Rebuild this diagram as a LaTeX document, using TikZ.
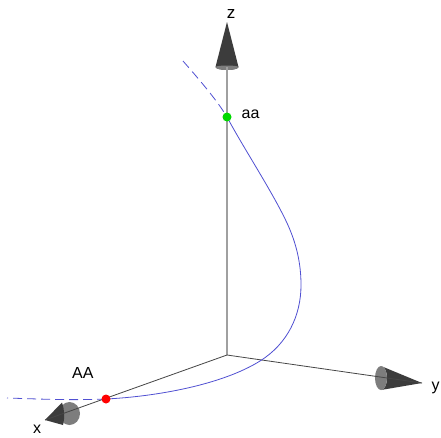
\documentclass[tikz,border=0pt]{standalone}
\usepackage{fontspec}
\setmainfont{Liberation Sans}
\begin{document}
\begin{tikzpicture}[x=1pt,y=-1pt,
  curve/.style={draw=curveblue,line width=0.8pt},
  dashcurve/.style={curve,dash pattern=on 9pt off 5pt},
  axisline/.style={draw=axisgray,line width=0.8pt},
  conebody/.style={fill=conedark},
  conebase/.style={fill=conelight},
  pt/.style={circle,inner sep=0pt,minimum size=9pt},
  lbl/.style={inner sep=0pt,font=\fontsize{16}{19}\selectfont}]
\definecolor{curveblue}{RGB}{80,80,210}
\definecolor{axisgray}{RGB}{70,70,70}
\definecolor{zgray}{RGB}{160,160,160}
\definecolor{conedark}{RGB}{60,60,60}
\definecolor{conelight}{RGB}{125,125,125}
\useasboundingbox (0,0) rectangle (441,437);
\fill[white] (0,0) rectangle (441,437);
% coordinates
\coordinate (O) at (227,355);
\coordinate (xtip) at (45,420);
\coordinate (ytip) at (422,383);
\coordinate (ztip) at (227,22);
\coordinate (zbase) at (227,67);
% cones
\fill[conebody] (ztip) -- (215.5,67) arc[start angle=180,end angle=360,x radius=11.5,y radius=-3] -- cycle;
\fill[conebase] (215.5,67) arc[start angle=180,end angle=360,x radius=11.5,y radius=-3] arc[start angle=0,end angle=180,x radius=11.5,y radius=-1.5] -- cycle;
\fill[conebase] (69.5,413.5) ellipse[x radius=10.5,y radius=11.5];
\fill[conebody] (xtip) -- (62,402.5) to[bend left=15] (63,425) -- cycle;
\fill[conebody] (ytip) -- (381,366) arc[start angle=90,end angle=-90,x radius=6,y radius=-12] -- cycle;
\fill[conebase] (381,378) ellipse[x radius=6,y radius=12];
% axes
\draw[draw=zgray,line width=1.6pt] (O) -- (zbase);
\draw[axisline] (O) -- (xtip);
\draw[axisline] (O) -- (ytip);
% points
\node[pt] (aa) at (227,117) {};
\node[pt] (AA) at (106,399) {};
\coordinate (bend) at (287,223);
\coordinate (right) at (301,285);
\coordinate (cross) at (260,361);
% curve
\draw[dashcurve] (183,61) .. controls (197,77) and (217,100) .. (aa.center);
\draw[curve] (aa.center) .. controls (243.5,148) and (272.3,191.5) .. (bend)
  .. controls (296.2,242.8) and (301,263) .. (right)
  .. controls (301,316) and (287.2,344) .. (cross)
  .. controls (221.8,384.9) and (156,396.5) .. (AA.center);
\draw[dashcurve] (AA.center) .. controls (70,400.5) and (40,399) .. (7,398);
\node[pt,fill=green!85!black] at (aa) {};
\node[pt,fill=red] at (AA) {};
% labels
\node[lbl,anchor=base west] (lAA) at (72,378) {AA};
\node[lbl,anchor=base west] (laa) at (241.5,118) {aa};
\node[lbl,anchor=base,font=\fontsize{17}{20}\selectfont] (lz) at (231,18.5) {z};
\node[lbl,anchor=base] (lx) at (37,433) {x};
\node[lbl,anchor=base west] (ly) at (431.5,390) {y};
\end{tikzpicture}
\end{document}
